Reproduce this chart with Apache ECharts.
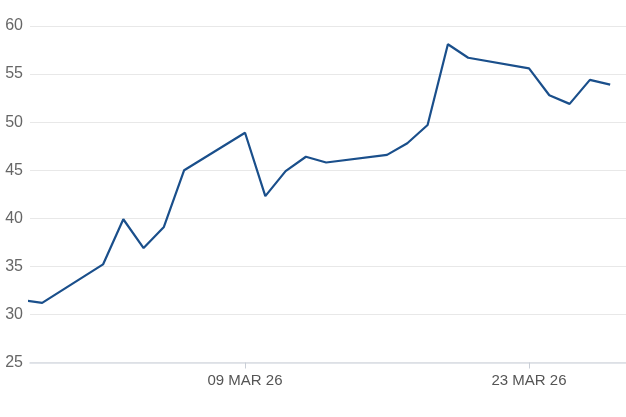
<!DOCTYPE html>
<html>
<head>
<meta charset="utf-8">
<script src="https://cdn.jsdelivr.net/npm/echarts@6/dist/echarts.min.js"></script>
<style>
  html, body { margin: 0; padding: 0; background: #fff; }
  #chart { width: 626px; height: 417px; }
</style>
</head>
<body>
<div id="chart"></div>
<script>
// trading days and closing values
const dates = [
  '2026-02-26', '2026-02-27', '2026-03-02', '2026-03-03', '2026-03-04', '2026-03-05',
  '2026-03-06', '2026-03-09', '2026-03-10', '2026-03-11', '2026-03-12', '2026-03-13',
  '2026-03-16', '2026-03-17', '2026-03-18', '2026-03-19', '2026-03-20', '2026-03-23',
  '2026-03-24', '2026-03-25', '2026-03-26', '2026-03-27'
]
const values = [
  31.5, 31.2, 35.2, 39.9, 36.9, 39.1,
  45.0, 48.9, 42.3, 44.9, 46.4, 45.8,
  46.6, 47.8, 49.7, 58.1, 56.7, 55.6,
  52.8, 51.9, 54.4, 53.9
]
const tickDates = ['2026-03-09', '2026-03-23']
const monthNames = ['JAN', 'FEB', 'MAR', 'APR', 'MAY', 'JUN', 'JUL', 'AUG', 'SEP', 'OCT', 'NOV', 'DEC']

const ts = (d) => new Date(d + 'T00:00:00Z').getTime()
const tickTs = tickDates.map(ts)
const DAY = 86400000

function fmtDate(v) {
  const d = new Date(v)
  const dd = String(d.getUTCDate()).padStart(2, '0')
  const yy = String(d.getUTCFullYear()).slice(2)
  return dd + ' ' + monthNames[d.getUTCMonth()] + ' ' + yy
}

const chart = echarts.init(document.getElementById('chart'), null, { renderer: 'canvas' })
chart.setOption({
  animation: false,
  grid: { left: 30, right: 0, top: 26, bottom: 54.5 },
  xAxis: {
    type: 'value',
    min: tickTs[0] - 10.6 * DAY,
    max: tickTs[0] + 18.78 * DAY,
    axisLine: { show: true, lineStyle: { color: '#d9dde3', width: 1.5 } },
    axisTick: {
      show: true,
      customValues: tickTs,
      length: 6,
      lineStyle: { color: '#c9ced6' }
    },
    axisLabel: {
      customValues: tickTs,
      formatter: (v) => fmtDate(v),
      color: '#555',
      fontSize: 15,
      fontFamily: 'Liberation Sans, Arial, sans-serif',
      margin: 11
    },
    splitLine: { show: false }
  },
  yAxis: {
    type: 'value',
    min: 25,
    max: 60,
    interval: 5,
    axisLine: { show: false },
    axisTick: { show: false },
    axisLabel: {
      color: '#666',
      fontSize: 16,
      fontFamily: 'Liberation Sans, Arial, sans-serif',
      margin: 7
    },
    splitLine: { lineStyle: { color: '#e8e8e8', width: 1 } }
  },
  series: [{
    type: 'line',
    data: dates.map((d, i) => [ts(d), values[i]]),
    showSymbol: false,
    clip: true,
    lineStyle: { color: '#1a4f8b', width: 2.2 },
    itemStyle: { color: '#1a4f8b' }
  }]
})
</script>
</body>
</html>
